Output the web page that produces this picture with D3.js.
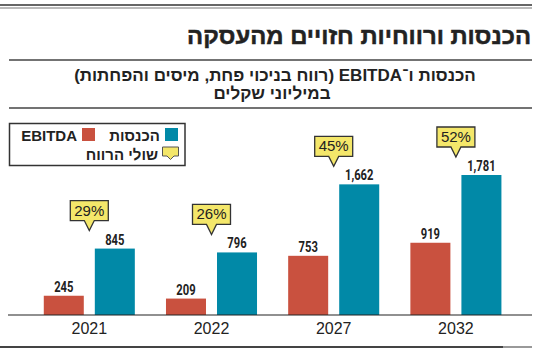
<!DOCTYPE html>
<html>
<head>
<meta charset="utf-8">
<script src="https://cdn.jsdelivr.net/npm/d3@7"></script>
<style>
  html, body { margin: 0; padding: 0; background: #fff; }
  svg { display: block; }
  text { font-family: "Liberation Sans", "DejaVu Sans", Arial, sans-serif; fill: #222; }
  .val { font-family: Roboto, "Liberation Sans", sans-serif; font-weight: 700; font-size: 14px; }
</style>
</head>
<body>
<svg id="chart" width="550" height="363"></svg>
<script>
// data
const years = ['2021', '2022', '2027', '2032'];
const revenue = [845, 796, 1662, 1781];
const ebitda = [245, 209, 753, 919];
const margins = [29, 26, 45, 52];

const title = 'הכנסות ורווחיות חזויים מהעסקה';
const subtitle1 = 'הכנסות ו־EBITDA (רווח בניכוי פחת, מיסים והפחתות)';
const subtitle2 = 'במיליוני שקלים';
const legendRevenue = 'הכנסות';
const legendEbitda = 'EBITDA';
const legendMargin = 'שולי הרווח';

const RED = '#c9513f';
const BLUE = '#0189a7';
const YELLOW = '#f4e76a';

const svg = d3.select('#chart');

// squeeze a text node to a share of its natural width (condensed look)
function squeeze(sel, k) {
  sel.each(function () {
    const w = this.getComputedTextLength();
    d3.select(this).attr('textLength', w * k).attr('lengthAdjust', 'spacingAndGlyphs');
  });
}

// frame lines
svg.append('line').attr('x1', 0).attr('x2', 532).attr('y1', 5).attr('y2', 5)
  .attr('stroke', '#666').attr('stroke-width', 2);
svg.append('line').attr('x1', 0).attr('x2', 532).attr('y1', 8).attr('y2', 8)
  .attr('stroke', '#777').attr('stroke-width', 1);
svg.append('line').attr('x1', 9).attr('x2', 532).attr('y1', 60).attr('y2', 60)
  .attr('stroke', '#444').attr('stroke-width', 1.5);
svg.append('line').attr('x1', 9).attr('x2', 532).attr('y1', 108).attr('y2', 108)
  .attr('stroke', '#444').attr('stroke-width', 1.5);
svg.append('line').attr('x1', 0).attr('x2', 503).attr('y1', 347).attr('y2', 347)
  .attr('stroke', '#444').attr('stroke-width', 2);
svg.append('line').attr('x1', 503).attr('x2', 532).attr('y1', 347).attr('y2', 347)
  .attr('stroke', '#999').attr('stroke-width', 2);

// title: size it so it fills the same width as the reference
const titleText = svg.append('text')
  .attr('x', 531).attr('y', 44)
  .attr('text-anchor', 'end')
  .attr('font-size', 24).attr('font-weight', 700)
  .attr('stroke', '#222').attr('stroke-width', 0.5)
  .text(title);
const tw = titleText.node().getComputedTextLength();
titleText.attr('font-size', Math.min(26, 24 * 344 / tw));

svg.append('text')
  .attr('x', 275).attr('y', 81)
  .attr('direction', 'rtl')
  .attr('text-anchor', 'middle')
  .attr('font-size', 17).attr('font-weight', 700)
  .text(subtitle1);
svg.append('text')
  .attr('x', 272).attr('y', 99)
  .attr('direction', 'rtl')
  .attr('text-anchor', 'middle')
  .attr('font-size', 17).attr('font-weight', 700)
  .text(subtitle2);

// scales
const x = d3.scaleBand().domain(years).range([28.2, 517]).paddingInner(0.255).paddingOuter(0.1275);
const xInner = d3.scaleBand().domain(['ebitda', 'revenue']).range([0, x.bandwidth()]).paddingInner(0.216);
const y = d3.scaleLinear().domain([0, 1781]).range([315, 175]);

const rows = years.map((yr, i) => ({ year: yr, revenue: revenue[i], ebitda: ebitda[i], margin: margins[i] }));

const groups = svg.append('g').selectAll('g')
  .data(rows)
  .join('g')
  .attr('transform', (d) => `translate(${x(d.year)},0)`);

// bars
groups.append('rect')
  .attr('x', xInner('ebitda')).attr('width', xInner.bandwidth())
  .attr('y', (d) => y(d.ebitda)).attr('height', (d) => y(0) - y(d.ebitda))
  .attr('fill', RED);
groups.append('rect')
  .attr('x', xInner('revenue')).attr('width', xInner.bandwidth())
  .attr('y', (d) => y(d.revenue)).attr('height', (d) => y(0) - y(d.revenue))
  .attr('fill', BLUE);

// value labels
const fmt = d3.format(',');
groups.append('text').attr('class', 'val')
  .attr('x', xInner('ebitda') + xInner.bandwidth() / 2)
  .attr('y', (d) => y(d.ebitda) - 4)
  .attr('text-anchor', 'middle')
  .text((d) => fmt(d.ebitda))
  .call(squeeze, 0.8);
groups.append('text').attr('class', 'val')
  .attr('x', xInner('revenue') + xInner.bandwidth() / 2)
  .attr('y', (d) => y(d.revenue) - 4)
  .attr('text-anchor', 'middle')
  .text((d) => fmt(d.revenue))
  .call(squeeze, 0.8);

// margin callouts, pointer on the group centre
const bw = 38, bh = 20, tipH = 10;
function calloutPath(cx, tipY) {
  const bottom = tipY - tipH, top = bottom - bh;
  const l = cx - bw / 2, r = cx + bw / 2;
  return `M${l},${top}H${r}V${bottom}H${cx + 5}L${cx},${tipY}L${cx - 5},${bottom}H${l}Z`;
}
groups.append('path')
  .attr('d', (d) => calloutPath(x.bandwidth() / 2, y(d.revenue) - 18))
  .attr('fill', YELLOW).attr('stroke', '#333').attr('stroke-width', 1.3);
groups.append('text')
  .attr('x', x.bandwidth() / 2)
  .attr('y', (d) => y(d.revenue) - 18 - tipH - 5)
  .attr('text-anchor', 'middle')
  .attr('font-size', 15)
  .text((d) => `${d.margin}%`);

// x axis
const axis = svg.append('g')
  .attr('transform', `translate(0,${y(0)})`)
  .call(d3.axisBottom(x).tickSize(0).tickPadding(8));
axis.select('.domain').remove();
axis.selectAll('text')
  .attr('font-size', 16).attr('fill', '#222')
  .style('font-family', '"Liberation Sans", Arial, sans-serif');
svg.append('line').attr('x1', 8).attr('x2', 532).attr('y1', y(0)).attr('y2', y(0))
  .attr('stroke', '#222').attr('stroke-width', 1.2);

// legend
const lg = svg.append('g');
lg.append('rect').attr('x', 9.5).attr('y', 123.5).attr('width', 175.5).attr('height', 42)
  .attr('fill', '#fff').attr('stroke', '#333').attr('stroke-width', 1.5);
lg.append('rect').attr('x', 165).attr('y', 128).attr('width', 13).attr('height', 13).attr('fill', BLUE);
lg.append('text').attr('x', 160).attr('y', 141).attr('text-anchor', 'end')
  .attr('font-size', 15).attr('font-weight', 700).text(legendRevenue);
lg.append('rect').attr('x', 82).attr('y', 128).attr('width', 13).attr('height', 13).attr('fill', RED);
lg.append('text').attr('x', 77).attr('y', 141).attr('text-anchor', 'end')
  .attr('font-size', 15).attr('font-weight', 700).text(legendEbitda);
lg.append('path')
  .attr('d', 'M162.5,147H178.5V156H174L170.5,159.5L167,156H162.5Z')
  .attr('fill', YELLOW).attr('stroke', '#555').attr('stroke-width', 1);
lg.append('text').attr('x', 158).attr('y', 160).attr('text-anchor', 'end')
  .attr('font-size', 15).attr('font-weight', 700).text(legendMargin);
</script>
</body>
</html>
